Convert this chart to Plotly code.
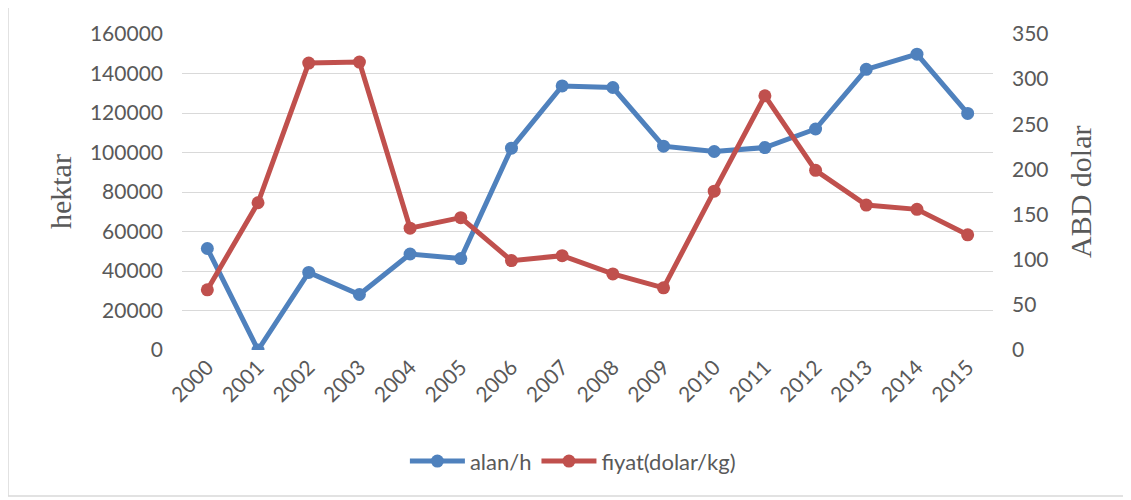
import plotly.graph_objects as go

years = [str(y) for y in range(2000, 2016)]
alan = [51400, 0, 39300, 28100, 48600, 46300, 102200, 133700, 132900, 103200,
        100500, 102500, 111900, 142100, 149800, 119800]
fiyat = [66.7, 163.1, 317.8, 318.9, 134.9, 146.6, 99.0, 104.5, 84.3, 68.9,
         175.9, 281.5, 199.0, 160.5, 155.8, 127.6]

left_ticks = list(range(0, 160001, 20000))
right_ticks = list(range(0, 351, 50))

BLUE = "#4F81BD"
RED = "#C0504D"
TXT = "#595959"
FONT = "Lato"

fig = go.Figure()
fig.add_trace(go.Scatter(x=years, y=alan, name="alan/h", mode="lines+markers",
                         line=dict(color=BLUE, width=5),
                         marker=dict(color=BLUE, size=13)))
fig.add_trace(go.Scatter(x=years, y=fiyat, name="fiyat(dolar/kg)", mode="lines+markers",
                         line=dict(color=RED, width=5),
                         marker=dict(color=RED, size=13), yaxis="y2"))

# page body has an 8px margin, so offsets are compensated in the figure margins
fig.update_layout(
    width=1131, height=500,
    margin=dict(l=174, r=146, t=24, b=158),
    paper_bgcolor="white", plot_bgcolor="white",
    font=dict(family=FONT, size=21, color=TXT),
    xaxis=dict(type="category", tickangle=-45, showgrid=False, showline=False,
               ticks="", zeroline=False, range=[-0.5, 15.5],
               tickfont=dict(family=FONT, size=21, color=TXT)),
    yaxis=dict(range=[0, 160000], tickvals=left_ticks, tickformat="d",
               showgrid=True, gridcolor="#d9d9d9", gridwidth=1.3,
               zeroline=False, showline=False, ticks="",
               ticklabelstandoff=18,
               tickfont=dict(family=FONT, size=21, color=TXT)),
    yaxis2=dict(range=[0, 350], tickvals=right_ticks, overlaying="y", side="right",
                showgrid=False, zeroline=False, showline=False, ticks="",
                ticklabelstandoff=18,
                tickfont=dict(family=FONT, size=21, color=TXT)),
    showlegend=True,
    legend=dict(orientation="h", x=0.482, y=-0.352, xanchor="center", yanchor="middle",
                font=dict(family=FONT, size=22, color=TXT), itemwidth=55,
                bgcolor="rgba(0,0,0,0)"),
    annotations=[
        dict(text="hektar", x=-0.1504, y=0.5, xref="paper", yref="paper",
             textangle=-90, showarrow=False, xanchor="center", yanchor="middle",
             font=dict(family="Liberation Serif", size=30, color=TXT)),
        dict(text="ABD dolar", x=1.1073, y=0.5, xref="paper", yref="paper",
             textangle=-90, showarrow=False, xanchor="center", yanchor="middle",
             font=dict(family="Liberation Serif", size=30, color=TXT)),
    ],
    shapes=[dict(type="rect", xref="paper", yref="paper",
                 x0=(8 - 182) / 811, x1=(1128 - 182) / 811,
                 y0=(350 - 497) / 318.3, y1=(350 - 3) / 318.3,
                 line=dict(color="#d9d9d9", width=1.5), layer="below")],
)

fig.write_html("out.html")
